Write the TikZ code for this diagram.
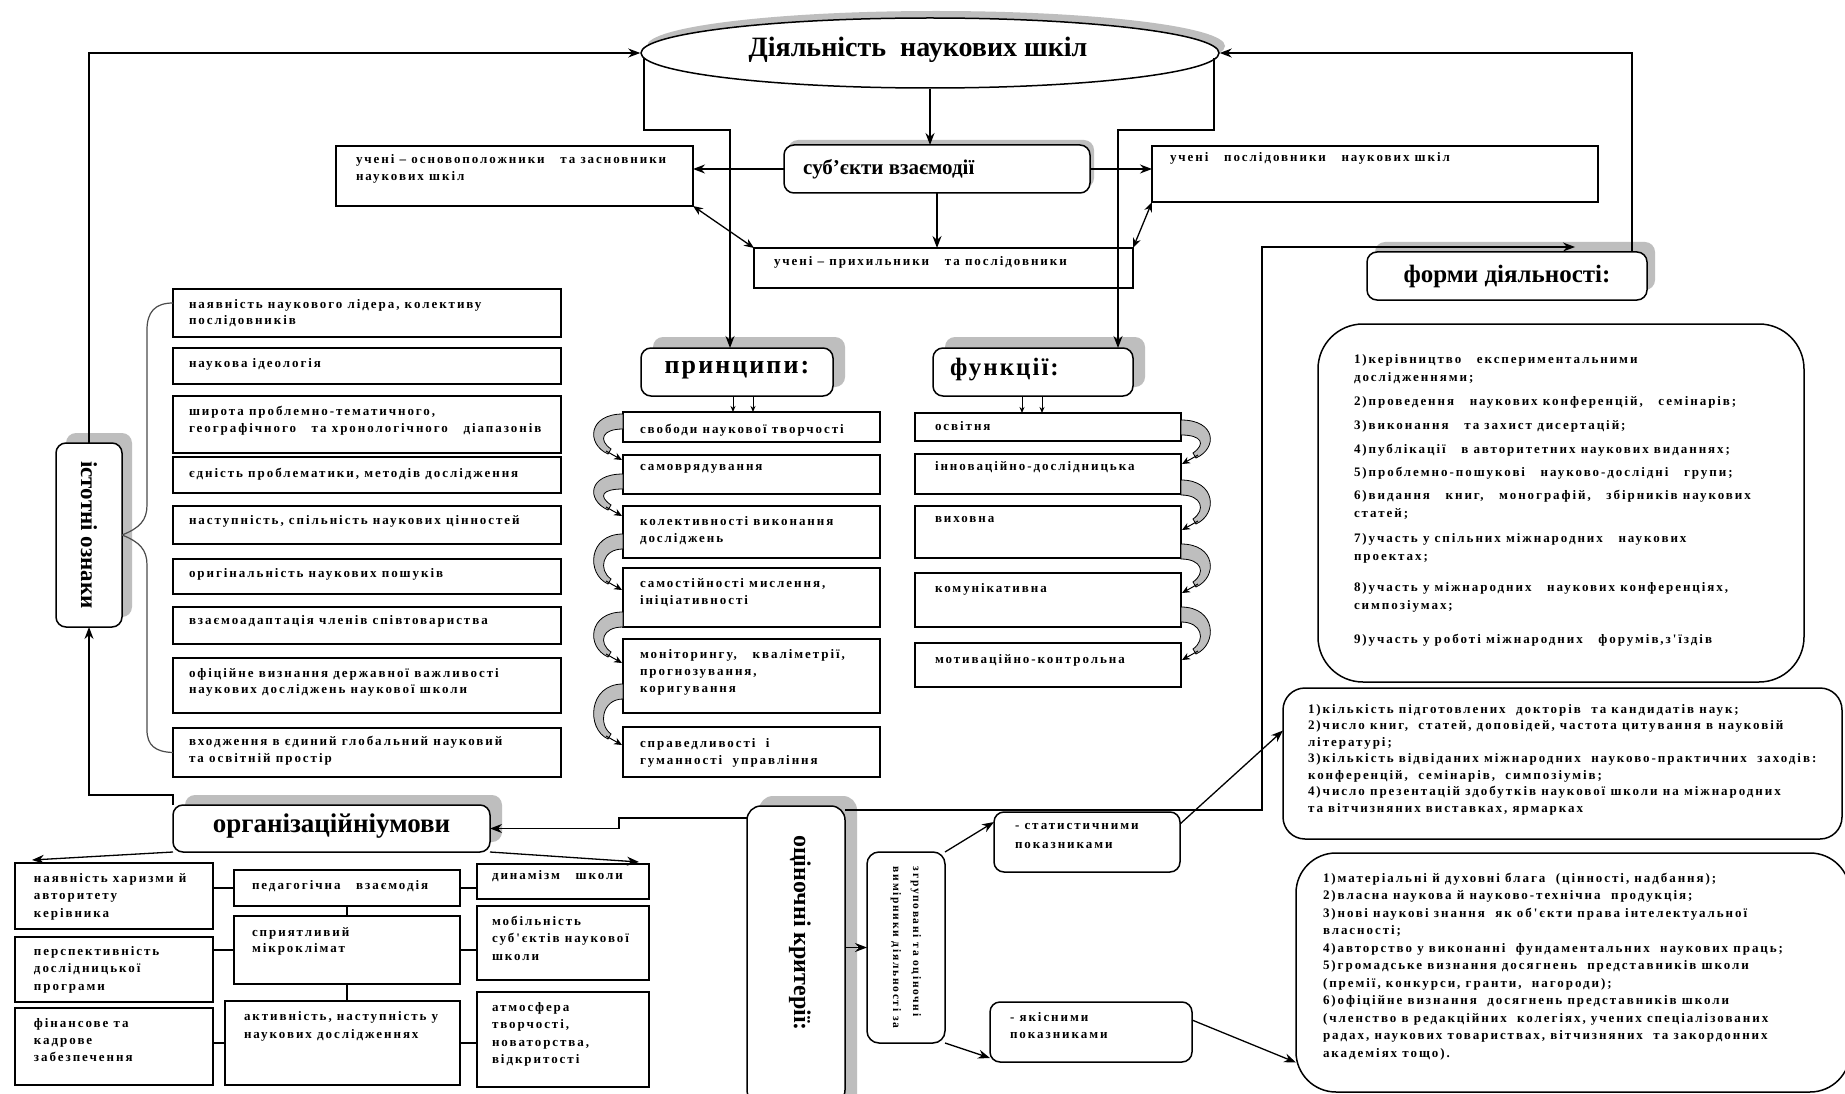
\documentclass[tikz,border=0pt]{standalone}
\usepackage{fontspec}
\setmainfont{Liberation Serif}
\newfontfamily\bodyf[LetterSpace=15]{Liberation Serif}
\newfontfamily\headsp[LetterSpace=8]{Liberation Serif}
\usetikzlibrary{shapes.geometric,arrows.meta,fit,calc}
\definecolor{shgray}{RGB}{190,190,190}
\newcommand{\bx}[6][]{\node[box,#1,fit={(#3,#4)(#5,#6)}] (#2) {};}
\newcommand{\shd}[5]{\fill[shgray, rounded corners=#5] (#1,#2) rectangle (#3,#4);}
\newcommand{\lcurve}[2]{%
  \filldraw[fill=shgray, draw=black, line width=0.8pt] (623,#1-8) .. controls (588,#1-8) and (586,#2-16) .. (608,#2-6) -- (611,#2-11) .. controls (598,#2-20) and (602,#1+7) .. (623,#1+7) -- cycle;
  \draw[line width=1pt, -{Stealth[length=8pt,width=7pt]}] (606,#2-9) -- (622,#2);}
\newcommand{\rcurve}[2]{%
  \filldraw[fill=shgray, draw=black, line width=0.8pt] (1181,#1-8) .. controls (1216,#1-8) and (1218,#2-16) .. (1196,#2-6) -- (1193,#2-11) .. controls (1206,#2-20) and (1202,#1+7) .. (1181,#1+7) -- cycle;
  \draw[line width=1pt, -{Stealth[length=8pt,width=7pt]}] (1198,#2-9) -- (1182,#2);}
\tikzset{
  box/.style={draw, line width=1.5pt, inner sep=0pt, outer sep=0pt},
  rbox/.style={box, rounded corners=10pt},
  txt/.style={anchor=north west, inner sep=0pt, outer sep=0pt, align=left, font=\bodyf\bfseries\fontsize{13}{#1}\selectfont},
  txt/.default=16,
  hd/.style={inner sep=0pt, font=\bfseries\fontsize{#1}{#1}\selectfont},
  conn/.style={line width=1.3pt},
  arr/.style={conn, -{Stealth[length=12pt,width=9pt]}},
  dbl/.style={conn, {Stealth[length=10pt,width=8pt]}-{Stealth[length=10pt,width=8pt]}},
  thin/.style={line width=1pt, -{Stealth[length=6pt,width=5pt]}},
  brc/.style={line width=1.2pt, black!70},
}
\begin{document}
\begin{tikzpicture}[x=1pt,y=-1pt]
\useasboundingbox (0,0) rectangle (1845,1094);
\fill[white] (0,0) rectangle (1845,1094);

% ---------- shadows ----------
\fill[shgray] (936,46) ellipse [x radius=289pt, y radius=35pt];
\shd{788}{140}{1094}{188}{10pt}
\shd{653}{337}{845}{387}{10pt}
\shd{945}{337}{1145}{387}{10pt}
\shd{1375}{242}{1655}{290}{10pt}
\shd{66}{433}{132}{617}{10pt}
\shd{185}{795}{502}{842}{10pt}
\shd{759}{796}{857}{1110}{14pt}

% ---------- top ----------
\node[ellipse, draw, line width=1.5pt, fill=white, minimum width=578pt, minimum height=70pt, inner sep=0pt] (act) at (930,53) {};
\node[hd=28] (act-t) at (918,50) {Діяльність\ \ наукових шкіл};

\node[rbox, fill=white, minimum width=306pt, minimum height=48pt] (subj) at (937,169) {};
\node[hd=21, anchor=west] (subj-t) at (803,169) {суб'єкти взаємодії};

\bx{L1}{336}{146}{693}{206}
\node[txt=17] (L1-t) at (356,154) {учені – основоположники~~ та засновники\\наукових шкіл};
\bx{R1}{1152}{146}{1598}{202}
\node[txt] (R1-t) at (1170,152) {учені~~ послідовники~~ наукових шкіл};
\bx{B1}{754}{248}{1133}{288}
\node[txt] (B1-t) at (774,256) {учені – прихильники~~ та послідовники};

% ---------- forms ----------
\node[rbox, fill=white, minimum width=280pt, minimum height=48pt] (FH) at (1507,276) {};
\node[hd=25] (FH-t) at (1507,276) {форми діяльності:};
\bx[rounded corners=45pt]{FB}{1318}{324}{1804}{682}
\node[txt=18] (FB-t) at (1354,354) {1)керівництво~~ експериментальними\\дослідженнями;\\[6pt]2)проведення~~ наукових конференцій,~~ семінарів;\\[6pt]3)виконання~~ та захист дисертацій;\\[6pt]4)публікації~~ в авторитетних наукових виданнях;\\[5pt]5)проблемно-пошукові~~ науково-дослідні~~ групи;\\[5pt]6)видання~~ книг,~~ монографій,~~ збірників наукових\\статей;\\[7pt]7)участь у спільних міжнародних~~ наукових\\проектах;\\[13pt]8)участь у міжнародних~~ наукових конференціях,\\симпозіумах;\\[16pt]9)участь у роботі міжнародних~~ форумів,з'їздів};

% ---------- principles ----------
\node[rbox, fill=white, minimum width=192pt, minimum height=48pt] (pr) at (737,372) {};
\node[inner sep=0pt, font=\headsp\bfseries\fontsize{26}{26}\selectfont] (pr-t) at (737,370) {принципи:};
\bx{p1}{623}{412}{880}{442}
\bx{p2}{623}{455}{880}{494}
\bx{p3}{623}{506}{880}{558}
\bx{p4}{623}{568}{880}{627}
\bx{p5}{623}{639}{880}{713}
\bx{p6}{623}{727}{880}{777}
\node[txt] (p1-t) at (640,424) {свободи наукової творчості};
\node[txt] (p2-t) at (640,464) {самоврядування};
\node[txt=17] (p3-t) at (640,516) {колективності виконання\\досліджень};
\node[txt=17] (p4-t) at (640,578) {самостійності мислення,\\ініціативності};
\node[txt=17] (p5-t) at (640,649) {моніторингу,~~ кваліметрії,\\прогнозування,\\коригування};
\node[txt=17] (p6-t) at (640,738) {справедливості~ і\\гуманності~ управління};
\lcurve{422}{460}
\lcurve{482}{516}
\lcurve{542}{590}
\lcurve{620}{663}
\lcurve{692}{745}

% ---------- functions ----------
\node[rbox, fill=white, minimum width=200pt, minimum height=48pt] (fu) at (1033,372) {};
\node[inner sep=0pt, anchor=west, font=\headsp\bfseries\fontsize{25}{25}\selectfont] (fu-t) at (950,370) {функції:};
\bx{f1}{915}{413}{1181}{441}
\bx{f2}{915}{454}{1181}{494}
\bx{f3}{915}{506}{1181}{558}
\bx{f4}{915}{573}{1181}{627}
\bx{f5}{915}{643}{1181}{687}
\node[txt] (f1-t) at (935,421) {освітня};
\node[txt] (f2-t) at (935,461) {інноваційно-дослідницька};
\node[txt] (f3-t) at (935,516) {виховна};
\node[txt] (f4-t) at (935,583) {комунікативна};
\node[txt] (f5-t) at (935,654) {мотиваційно-контрольна};
\rcurve{428}{464}
\rcurve{488}{530}
\rcurve{552}{593}
\rcurve{615}{660}

% ---------- essential features ----------
\node[rbox, fill=white, minimum width=66pt, minimum height=184pt] (IS) at (89,535) {};
\node[hd=23, rotate=-90] (IS-t) at (IS.center) {істотні ознаки};
\bx{l1}{173}{289}{561}{337}
\bx{l2}{173}{348}{561}{384}
\bx{l3}{173}{396}{561}{453}
\bx{l4}{173}{457}{561}{493}
\bx{l5}{173}{506}{561}{544}
\bx{l6}{173}{559}{561}{594}
\bx{l7}{173}{607}{561}{644}
\bx{l8}{173}{658}{561}{713}
\bx{l9}{173}{728}{561}{777}
\node[txt] (l1-t) at (189,299) {наявність наукового лідера, колективу\\послідовників};
\node[txt] (l2-t) at (189,358) {наукова ідеологія};
\node[txt=17] (l3-t) at (189,406) {широта проблемно-тематичного,\\географічного~~ та хронологічного~~ діапазонів};
\node[txt] (l4-t) at (189,468) {єдність проблематики, методів дослідження};
\node[txt] (l5-t) at (189,515) {наступність, спільність наукових цінностей};
\node[txt] (l6-t) at (189,568) {оригінальність наукових пошуків};
\node[txt] (l7-t) at (189,615) {взаємоадаптація членів співтовариства};
\node[txt] (l8-t) at (189,668) {офіційне визнання державної важливості\\наукових досліджень наукової школи};
\node[txt=17] (l9-t) at (189,736) {входження в єдиний глобальний науковий\\та освітній простір};
\draw[brc] (IS.east) .. controls (140,528) and (147,520) .. (147,505) -- (147,330) .. controls (147,312) and (155,303) .. ([yshift=10pt]l1.west);
\draw[brc] (IS.east) .. controls (140,542) and (147,550) .. (147,565) -- (147,730) .. controls (147,745) and (155,752) .. (l9.west);

% ---------- organisational conditions ----------
\node[rbox, fill=white, minimum width=317pt, minimum height=47pt] (org) at (331.5,828.5) {};
\node[hd=27] (org-t) at (331.5,826) {організаційніумови};
\bx{oa}{15}{863}{213}{929}
\bx{ob}{15}{937}{213}{1002}
\bx{oc}{15}{1008}{213}{1085}
\bx{od}{234}{870}{460}{906}
\bx{oe}{234}{916}{460}{984}
\bx{of}{225}{1001}{460}{1085}
\bx{og}{477}{864}{649}{899}
\bx{oh}{477}{906}{649}{980}
\bx{oi}{477}{992}{649}{1087}
\node[txt=17.5] (oa-t) at (34,873) {наявність харизми й\\авторитету\\керівника};
\node[txt=17.5] (ob-t) at (34,946) {перспективність\\дослідницької\\програми};
\node[txt=17] (oc-t) at (34,1018) {фінансове та\\кадрове\\забезпечення};
\node[txt] (od-t) at (252,880) {педагогічна~~ взаємодія};
\node[txt] (oe-t) at (252,928) {сприятливий\\мікроклімат};
\node[txt=18] (of-t) at (244,1011) {активність, наступність у\\наукових дослідженнях};
\node[txt] (og-t) at (492,870) {динамізм~~ школи};
\node[txt=17.5] (oh-t) at (492,916) {мобільність\\суб'єктів наукової\\школи};
\node[txt=17.5] (oi-t) at (492,1002) {атмосфера\\творчості,\\новаторства,\\відкритості};
\draw[conn] (od.west) -- (od.west -| oa.east);
\draw[conn] (od.east) -- (od.east -| og.west);
\draw[conn] (od.south) -- (oe.north);
\draw[conn] (oe.west) -- (oe.west -| ob.east);
\draw[conn] (oe.east) -- (oe.east -| oh.west);
\draw[conn] (oe.south) -- (oe.south |- of.north);
\draw[conn] (of.west) -- (of.west -| oc.east);
\draw[conn] (of.east) -- (of.east -| oi.west);

% ---------- evaluation criteria ----------
\bx[rounded corners=14pt, fill=white]{CR}{747}{806}{845}{1104}
\node[hd=24, rotate=-90] (CR-t) at (800,933) {оціночні критерії:};
\bx[rounded corners=12pt]{SM}{867}{852}{945}{1043}
\node[rotate=-90, align=left, inner sep=0pt, font=\bodyf\bfseries\fontsize{11.5}{20}\selectfont] (SM-t) at (SM.center) {згруповані та оціночні\\вимірники діяльності за};
\bx[rounded corners=10pt]{ST}{994}{812}{1180}{872}
\node[txt=19] (ST-t) at (1015,823) {- статистичними\\показниками};
\bx[rounded corners=10pt]{QL}{990}{1002}{1192}{1062}
\node[txt=17] (QL-t) at (1010,1012) {- якісними\\показниками};
\bx[rounded corners=22pt]{CT}{1283}{688}{1842}{839}
\node[txt=16.5] (CT-t) at (1308,704) {1)кількість підготовлених~ докторів~ та кандидатів наук;\\2)число книг,~ статей, доповідей, частота цитування в науковій\\літературі;\\3)кількість відвіданих міжнародних~ науково-практичних~ заходів:\\конференцій,~ семінарів,~ симпозіумів;\\4)число презентацій здобутків наукової школи на міжнародних\\та вітчизняних виставках, ярмарках};
\bx[rounded corners=40pt]{CB}{1296}{853}{1850}{1092}
\node[txt=17.5] (CB-t) at (1323,873) {1)матеріальні й духовні блага~ (цінності, надбання);\\2)власна наукова й науково-технічна~ продукція;\\3)нові наукові знання~ як об'єкти права інтелектуальної\\власності;\\4)авторство у виконанні~ фундаментальних~ наукових праць;\\5)громадське визнання досягнень~ представників школи\\(премії, конкурси, гранти,~ нагороди);\\6)офіційне визнання~ досягнень представників школи\\(членство в редакційних~ колегіях, учених спеціалізованих\\радах, наукових товариствах, вітчизняних~ та закордонних\\академіях тощо).};

% ---------- connectors ----------
\coordinate (eL) at (644,58);
\coordinate (eR) at (1214,58);
\coordinate (fhR) at (1632,252);
\draw[arr] (IS.north) |- (act.west);
\draw[arr] (fhR) |- (act.east);
\draw[arr] (act.south) -- (act.south |- subj.north);
\draw[arr] (eL) -- (644,130) -| ([xshift=-7pt]pr.north);
\draw[arr] (eR) -- (1214,130) -| ([xshift=85pt]fu.north);
\draw[arr] (subj.west) -- (subj.west -| L1.east);
\draw[arr] (subj.east) -- (subj.east -| R1.west);
\draw[arr] (subj.south) -- (subj.south |- B1.north);
\draw[dbl] (L1.south east) -- (B1.north west);
\draw[dbl] (R1.south west) -- (B1.north east);
\draw[thin] ([xshift=-4pt]pr.south) -- ([xshift=-4pt]pr.south |- p1.north);
\draw[thin] ([xshift=16pt]pr.south) -- ([xshift=16pt]pr.south |- p1.north);
\draw[thin] ([xshift=-11pt]fu.south) -- ([xshift=-11pt]fu.south |- f1.north);
\draw[thin] ([xshift=9pt]fu.south) -- ([xshift=9pt]fu.south |- f1.north);
\draw[arr] ([yshift=-4pt]CR.north east) -| (1262,247) -- ([xshift=208pt,yshift=5pt]FH.north west);
\draw[arr] ([yshift=-12pt]CR.north west) -- (619,818) |- (org.east);
\draw[arr] (org.north west) -- (173,795) -| (IS.south);
\draw[arr] (org.south west) -- ([xshift=17pt,yshift=3pt]oa.north west);
\draw[arr] (org.south east) -- ([xshift=-10pt,yshift=2pt]og.north east);
\draw[arr] (CR.east |- SM.west) -- (SM.west);
\draw[arr] (SM.north east) -- ([yshift=20pt]ST.west);
\draw[arr] (SM.south east) -- ([yshift=4pt]QL.south west);
\draw[arr] ([yshift=-12pt]ST.north east) -- ([yshift=33pt]CT.west);
\draw[arr] ([yshift=12pt]QL.east) -- ([yshift=-90pt]CB.west);
\end{tikzpicture}
\end{document}
